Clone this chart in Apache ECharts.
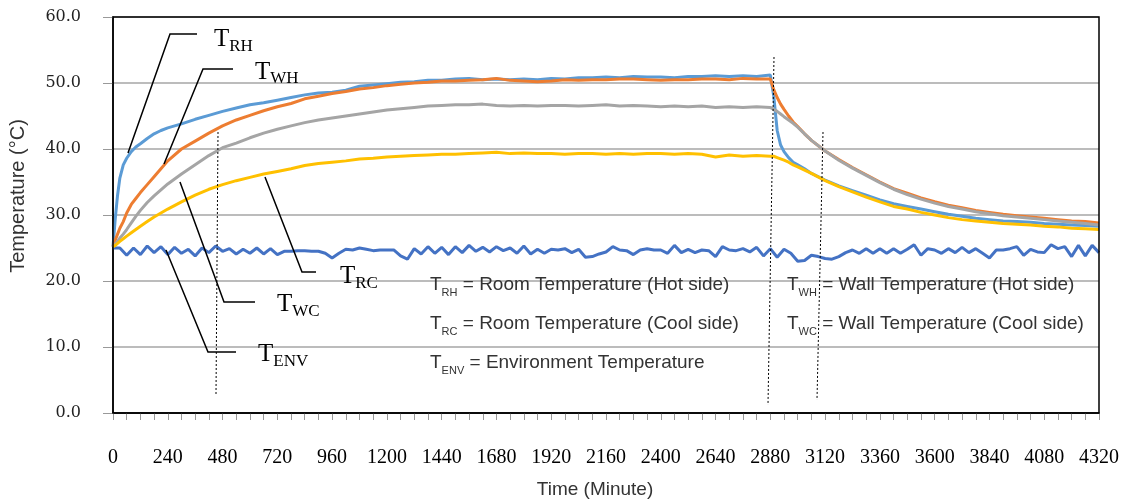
<!DOCTYPE html>
<html>
<head>
<meta charset="utf-8">
<script src="https://cdn.jsdelivr.net/npm/echarts@6/dist/echarts.min.js"></script>
<style>
html,body{margin:0;padding:0;background:#fff;}
#chart{width:1126px;height:503px;}
</style>
</head>
<body>
<div id="chart"></div>
<script>
// Time (minute) of each sample for the four heated/cooled series
const times = [0,10,20,30,45,60,80,100,120,150,180,210,240,
  300,360,420,480,540,600,660,720,780,840,900,960,1020,1080,1140,1200,1260,1320,1380,1440,1500,1560,1620,1680,1740,1800,1860,1920,1980,2040,2100,2160,2220,2280,2340,2400,2460,2520,2580,2640,2700,2760,2820,2880,
  2895,2910,2925,2940,2960,2980,3000,3030,
  3060,3120,3180,3240,3300,3360,3420,3480,3540,3600,3660,3720,3780,3840,3900,3960,4020,4080,4140,4200,4260,4320];

// T_RH : Room temperature (hot side)
const tRH = [25.2,29.5,33.0,35.6,37.6,38.6,39.6,40.3,40.8,41.6,42.3,42.8,43.2,
  43.8,44.5,45.1,45.7,46.2,46.7,47.0,47.4,47.8,48.2,48.5,48.6,48.9,49.5,49.7,49.9,50.1,50.2,50.4,50.4,50.6,50.7,50.5,50.6,50.5,50.6,50.5,50.7,50.6,50.8,50.8,50.9,50.8,51.0,50.9,50.9,50.8,51.0,51.0,51.1,51.0,51.1,51.0,51.2,
  48.0,42.8,40.6,39.6,38.7,38.0,37.6,37.0,
  36.3,35.3,34.4,33.7,33.0,32.3,31.7,31.3,30.9,30.5,30.1,29.8,29.5,29.3,29.1,29.0,28.9,28.7,28.6,28.5,28.4,28.3];

// T_WH : Wall temperature (hot side)
const tWH = [25.2,26.2,27.1,28.0,29.0,30.3,31.6,32.5,33.4,34.6,35.8,37.0,38.2,
  40.0,41.2,42.4,43.5,44.4,45.1,45.8,46.4,46.9,47.6,48.0,48.4,48.7,49.1,49.3,49.6,49.8,50.0,50.1,50.3,50.3,50.4,50.5,50.7,50.4,50.3,50.2,50.3,50.5,50.4,50.5,50.5,50.6,50.6,50.5,50.4,50.5,50.5,50.6,50.6,50.5,50.7,50.6,50.6,
  49.0,47.8,46.8,46.0,45.0,44.1,43.4,42.3,
  41.3,39.7,38.4,37.2,36.1,35.0,34.0,33.3,32.6,32.0,31.5,31.1,30.7,30.4,30.1,29.9,29.7,29.5,29.3,29.1,29.0,28.8];

// T_WC : Wall temperature (cool side)
const tWC = [25.2,25.6,26.0,26.5,27.1,27.8,28.8,29.8,30.7,31.9,32.9,33.8,34.7,
  36.2,37.6,39.0,40.2,40.9,41.7,42.4,43.0,43.5,44.0,44.4,44.7,45.0,45.3,45.6,45.9,46.1,46.3,46.5,46.6,46.7,46.7,46.8,46.6,46.5,46.6,46.5,46.6,46.6,46.5,46.6,46.7,46.5,46.6,46.5,46.4,46.5,46.4,46.5,46.3,46.4,46.3,46.4,46.3,
  46.0,45.7,45.3,44.9,44.4,43.9,43.3,42.3,
  41.3,39.7,38.3,37.1,36.0,34.9,33.9,33.1,32.4,31.8,31.3,30.9,30.5,30.2,29.9,29.7,29.5,29.3,29.1,28.9,28.7,28.5];

// T_RC : Room temperature (cool side)
const tRC = [25.2,25.4,25.7,26.0,26.4,26.8,27.3,27.8,28.3,29.0,29.7,30.3,30.9,
  32.0,33.0,33.9,34.6,35.2,35.7,36.2,36.6,37.0,37.5,37.8,38.0,38.2,38.5,38.6,38.8,38.9,39.0,39.1,39.2,39.2,39.3,39.4,39.5,39.3,39.4,39.3,39.3,39.2,39.3,39.3,39.2,39.3,39.2,39.3,39.3,39.2,39.3,39.2,38.8,39.1,38.9,39.0,38.9,
  38.9,38.7,38.5,38.3,38.0,37.6,37.3,36.8,
  36.3,35.2,34.3,33.5,32.7,32.0,31.3,30.9,30.4,30.0,29.6,29.3,29.1,28.9,28.7,28.6,28.5,28.3,28.2,28.0,27.9,27.8];

// T_ENV : Environment temperature, one reading every 30 minutes from 0 to 4320
const envStep = 30;
const tENV = [25.0,25.0,23.9,25.0,24.0,25.3,24.3,25.2,24.0,25.1,24.2,24.8,23.8,25.0,24.3,25.3,24.5,24.9,24.1,24.8,
  24.2,25.0,24.1,24.9,24.0,24.5,24.5,24.6,24.6,24.5,24.5,24.2,23.5,24.2,24.8,24.7,25.0,24.8,24.6,24.7,
  24.7,24.7,23.8,23.3,24.9,24.1,25.2,24.2,25.1,24.0,25.2,24.3,25.4,24.5,25.1,24.4,25.2,24.6,25.0,24.2,
  25.3,24.1,24.8,24.2,24.8,24.7,24.9,24.3,24.8,23.6,23.7,24.1,
  24.4,25.2,24.7,24.6,24.0,24.7,24.9,24.7,24.7,24.2,25.4,24.3,24.8,24.3,24.7,24.6,23.7,25.2,24.7,24.6,
  24.9,24.4,25.1,23.8,24.9,23.6,24.8,24.2,23.0,23.1,23.9,23.7,23.4,23.3,23.7,24.3,24.7,24.2,24.9,24.2,
  24.9,24.2,24.9,24.2,24.8,25.5,23.9,24.9,24.7,24.2,24.9,24.3,25.1,24.3,24.9,24.2,23.5,24.7,24.7,24.9,
  25.2,23.9,24.8,24.4,24.3,25.5,24.9,25.2,23.7,25.4,23.8,25.4,24.3];

const xTickInterval = 240;
const yTicks = [0,10,20,30,40,50,60];

const seriesDefs = [
  {name:'T_ENV', data: tENV.map((v,i)=>[i*envStep, v]), color:'#4472C4'},
  {name:'T_RH', data: times.map((t,i)=>[t, tRH[i]]), color:'#5B9BD5'},
  {name:'T_WH', data: times.map((t,i)=>[t, tWH[i]]), color:'#ED7D31'},
  {name:'T_WC', data: times.map((t,i)=>[t, tWC[i]]), color:'#A5A5A5'},
  {name:'T_RC', data: times.map((t,i)=>[t, tRC[i]]), color:'#FFC000'}
];

const serif = '"Liberation Serif", "Times New Roman", serif';
const sans = '"Liberation Sans", Arial, sans-serif';

function bigLabel(x, y, sub) {
  return {
    type: 'text', x: x, y: y, z: 100,
    style: {
      text: '{t|T}{s|' + sub + '}',
      align: 'left', verticalAlign: 'middle',
      textAlign: 'left', textVerticalAlign: 'middle',
      rich: {
        t: {fontFamily: serif, fontSize: 25, fill: '#000', color: '#000'},
        s: {fontFamily: serif, fontSize: 17, fill: '#000', color: '#000', padding: [14, 0, 0, 0]}
      }
    }
  };
}
function legendRow(x, y, sub, rest) {
  return {
    type: 'text', x: x, y: y, z: 100,
    style: {
      text: '{t|T}{s|' + sub + '}{n| ' + rest + '}',
      align: 'left', verticalAlign: 'middle',
      textAlign: 'left', textVerticalAlign: 'middle',
      rich: {
        t: {fontFamily: sans, fontSize: 19, fill: '#333', color: '#333'},
        s: {fontFamily: sans, fontSize: 11, fill: '#333', color: '#333', padding: [15, 0, 0, 0]},
        n: {fontFamily: sans, fontSize: 19, fill: '#333', color: '#333'}
      }
    }
  };
}
function leader(points) {
  return {type: 'polyline', z: 100, shape: {points: points}, style: {stroke: '#000', lineWidth: 1.5, fill: null}};
}
function dotted(x1, y1, x2, y2) {
  return {type: 'line', z: 100, shape: {x1:x1, y1:y1, x2:x2, y2:y2}, style: {stroke: '#000', lineWidth: 1, lineDash: [2, 2]}};
}

const chart = echarts.init(document.getElementById('chart'), null, {renderer: 'canvas'});
chart.setOption({
  animation: false,
  backgroundColor: '#fff',
  grid: {left: 113, right: 27, top: 17, bottom: 90, show: false},
  xAxis: {
    type: 'value', min: 0, max: 4320, interval: xTickInterval,
    axisLine: {show: true, lineStyle: {color: '#000', width: 1.5}},
    axisTick: {show: true, length: 7, lineStyle: {color: '#999', width: 1}},
    minorTick: {show: true, splitNumber: 4, length: 7, lineStyle: {color: '#999', width: 1}},
    axisLabel: {fontFamily: serif, fontSize: 20, color: '#000', margin: 35, formatter: v => String(v)},
    splitLine: {show: false}
  },
  yAxis: {
    type: 'value', min: yTicks[0], max: yTicks[yTicks.length-1], interval: 10,
    axisLine: {show: true, lineStyle: {color: '#000', width: 1.5}},
    axisTick: {show: true, length: 10, lineStyle: {color: '#999', width: 1}},
    axisLabel: {fontFamily: '"DejaVu Serif", serif', fontSize: 16, color: '#222', margin: 32,
      formatter: v => v.toFixed(1)},
    splitLine: {show: true, lineStyle: {color: '#a6a6a6', width: 1.5}}
  },
  series: seriesDefs.map(s => ({
    name: s.name, type: 'line', data: s.data, showSymbol: false, symbol: 'none',
    lineStyle: {color: s.color, width: 3}, itemStyle: {color: s.color}, silent: true
  })),
  graphic: [
    {type: 'rect', z: 90, shape: {x: 113, y: 17, width: 986, height: 396}, style: {stroke: '#000', lineWidth: 1.5, fill: null}},
    {type: 'text', x: 18, y: 196, rotation: Math.PI/2, z: 100,
     style: {text: 'Temperature (°C)', font: '20px ' + sans, fill: '#333', align: 'center', verticalAlign: 'middle', textAlign: 'center', textVerticalAlign: 'middle'}},
    {type: 'text', x: 595, y: 490, z: 100,
     style: {text: 'Time (Minute)', font: '19px ' + sans, fill: '#333', align: 'center', verticalAlign: 'middle', textAlign: 'center', textVerticalAlign: 'middle'}},
    dotted(218, 132, 216, 395),
    dotted(774, 57, 768, 405),
    dotted(823, 132, 817, 400),
    leader([[128,153],[170,34],[197,34]]),
    leader([[164,164],[203,69],[233,69]]),
    leader([[180,182],[224,302],[255,302]]),
    leader([[265,177],[302,272],[316,272]]),
    leader([[166,250],[208,352],[236,352]]),
    bigLabel(214, 39.5, 'RH'),
    bigLabel(255, 72, 'WH'),
    bigLabel(277, 304.5, 'WC'),
    bigLabel(340, 276.5, 'RC'),
    bigLabel(258, 354.5, 'ENV'),
    legendRow(430, 285, 'RH', '= Room Temperature (Hot side)'),
    legendRow(430, 324, 'RC', '= Room Temperature (Cool side)'),
    legendRow(430, 363, 'ENV', '= Environment Temperature'),
    legendRow(787, 285, 'WH', '= Wall Temperature (Hot side)'),
    legendRow(787, 324, 'WC', '= Wall Temperature (Cool side)')
  ]
});
</script>
</body>
</html>
